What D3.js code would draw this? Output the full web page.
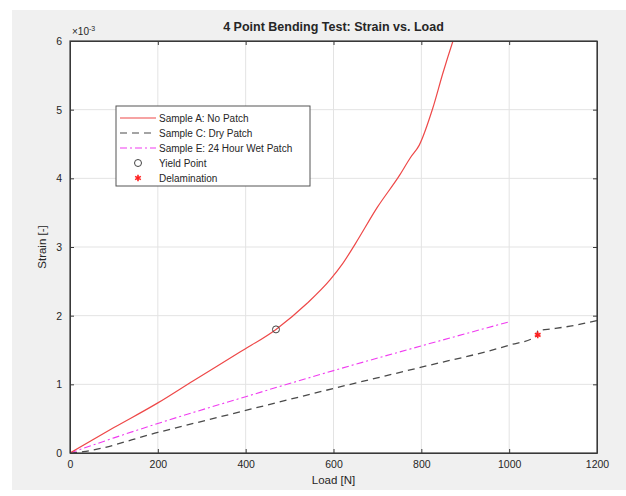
<!DOCTYPE html>
<html>
<head>
<meta charset="utf-8">
<script src="https://cdn.jsdelivr.net/npm/d3@7"></script>
<style>
body { margin: 0; background: #fff; }
text { font-family: "Liberation Sans", Arial, sans-serif; fill: #262626; }
.grid line { stroke: #e3e3e3; stroke-width: 1; }
.axis path, .axis line { stroke: #3a3a3a; }
</style>
</head>
<body>
<div id="chart"></div>
<script>
// Sample A: No Patch (strain in 1e-3)
var loadA   = [0, 100, 200, 280, 387, 469, 540, 592, 620, 650, 700, 751, 775, 795, 826, 849, 872, 885];
var strainA = [0, 0.37, 0.73, 1.05, 1.47, 1.80, 2.18, 2.52, 2.75, 3.05, 3.58, 4.05, 4.30, 4.48, 5.02, 5.53, 6.0, 6.25];
// Sample C: Dry Patch
var loadC   = [0, 30, 200, 400, 600, 800, 1000, 1062, 1065, 1100, 1150, 1200];
var strainC = [0, 0.02, 0.30, 0.62, 0.94, 1.25, 1.57, 1.70, 1.78, 1.81, 1.86, 1.93];
// Sample E: 24 Hour Wet Patch
var loadE   = [0, 100, 200, 400, 600, 800, 1000];
var strainE = [0, 0.22, 0.43, 0.82, 1.20, 1.56, 1.91];
// markers
var yieldPt = [469, 1.80];
var delamPt = [1065, 1.72];

var xTicks = [0, 200, 400, 600, 800, 1000, 1200];
var yTicks = [0, 1, 2, 3, 4, 5, 6];
var legendLabels = ["Sample A: No Patch", "Sample C: Dry Patch", "Sample E: 24 Hour Wet Patch", "Yield Point", "Delamination"];

var W = 626, H = 496;
var margin = {top: 41, right: 29, bottom: 43, left: 70},
    width = W - margin.left - margin.right,
    height = H - margin.top - margin.bottom;

var svg = d3.select("#chart").append("svg")
    .attr("width", W)
    .attr("height", H);

// figure background
svg.append("rect")
    .attr("x", 12).attr("y", 10)
    .attr("width", W - 12).attr("height", H - 16)
    .attr("fill", "#f0f0f0");

var g = svg.append("g")
    .attr("transform", "translate(" + margin.left + "," + margin.top + ")");

var x = d3.scaleLinear().domain([0, 1200]).range([0, width]);
var y = d3.scaleLinear().domain([0, 6]).range([height, 0]);

g.append("rect")
    .attr("width", width).attr("height", height)
    .attr("fill", "#fff");

// grid
g.append("g").attr("class", "grid")
    .selectAll("line").data(xTicks.slice(1, -1)).enter().append("line")
    .attr("x1", function(d) { return x(d); }).attr("x2", function(d) { return x(d); })
    .attr("y1", 0).attr("y2", height);
g.append("g").attr("class", "grid")
    .selectAll("line").data(yTicks.slice(1, -1)).enter().append("line")
    .attr("y1", function(d) { return y(d); }).attr("y2", function(d) { return y(d); })
    .attr("x1", 0).attr("x2", width);

g.append("clipPath").attr("id", "clip")
    .append("rect").attr("width", width).attr("height", height);

function makeLine(xs, ys) {
    return d3.line()
        .curve(d3.curveMonotoneX)
        .x(function(d, i) { return x(xs[i]); })
        .y(function(d, i) { return y(ys[i]); })(xs);
}

g.append("path")
    .attr("d", makeLine(loadC, strainC))
    .attr("clip-path", "url(#clip)")
    .attr("fill", "none").attr("stroke", "#4a4a4a").attr("stroke-width", 1.3)
    .attr("stroke-dasharray", "7,5");

g.append("path")
    .attr("d", makeLine(loadE, strainE))
    .attr("clip-path", "url(#clip)")
    .attr("fill", "none").attr("stroke", "#f03cf0").attr("stroke-width", 1.1)
    .attr("stroke-dasharray", "7,3,2,3");

g.append("path")
    .attr("d", makeLine(loadA, strainA))
    .attr("clip-path", "url(#clip)")
    .attr("fill", "none").attr("stroke", "#ee4848").attr("stroke-width", 1.2);

// yield point
g.append("circle")
    .attr("cx", x(yieldPt[0])).attr("cy", y(yieldPt[1])).attr("r", 3.5)
    .attr("fill", "none").attr("stroke", "#444").attr("stroke-width", 1);

// delamination
var star = d3.symbol().type(d3.symbolAsterisk).size(30);
g.append("path")
    .attr("d", star)
    .attr("transform", "translate(" + x(delamPt[0]) + "," + y(delamPt[1]) + ")")
    .attr("fill", "none").attr("stroke", "#ff2020").attr("stroke-width", 1.6);

// axes (box with ticks on all sides)
var tickLen = 4;
g.append("g").attr("class", "axis")
    .attr("transform", "translate(0," + height + ")")
    .call(d3.axisBottom(x).tickValues(xTicks).tickFormat(d3.format("d")).tickSize(-tickLen).tickPadding(8).tickSizeOuter(0))
    .call(function(s) { s.selectAll("text").style("font-size", "10.5px").attr("fill", "#404040"); });
g.append("g").attr("class", "axis")
    .call(d3.axisTop(x).tickValues(xTicks).tickSize(-tickLen).tickFormat("").tickSizeOuter(0));
g.append("g").attr("class", "axis")
    .call(d3.axisLeft(y).tickValues(yTicks).tickFormat(d3.format("d")).tickSize(-tickLen).tickPadding(8).tickSizeOuter(0))
    .call(function(s) { s.selectAll("text").style("font-size", "10.5px").attr("fill", "#404040"); });
g.append("g").attr("class", "axis")
    .attr("transform", "translate(" + width + ",0)")
    .call(d3.axisRight(y).tickValues(yTicks).tickSize(-tickLen).tickFormat("").tickSizeOuter(0));

g.append("rect")
    .attr("width", width).attr("height", height)
    .attr("fill", "none").attr("stroke", "#3a3a3a").attr("stroke-width", 1.2);

// exponent
var ex = g.append("text").attr("x", 2).attr("y", -6)
    .style("font-size", "10px").attr("fill", "#505050");
ex.append("tspan").text("\u00d710");
ex.append("tspan").attr("dy", -4).style("font-size", "7px").text("-3");

// title & labels
svg.append("text")
    .attr("x", margin.left + width / 2).attr("y", 31)
    .attr("text-anchor", "middle")
    .style("font-size", "12.5px").style("font-weight", "bold")
    .attr("fill", "#111")
    .text("4 Point Bending Test: Strain vs. Load");

svg.append("text")
    .attr("x", margin.left + width / 2).attr("y", 484)
    .attr("text-anchor", "middle")
    .style("font-size", "11.5px")
    .text("Load [N]");

svg.append("text")
    .attr("transform", "translate(46," + (margin.top + height / 2) + ") rotate(-90)")
    .attr("text-anchor", "middle")
    .style("font-size", "11.5px")
    .text("Strain [-]");

// legend
var lg = svg.append("g").attr("transform", "translate(116,106)");
lg.append("rect")
    .attr("width", 194).attr("height", 80)
    .attr("fill", "#fff").attr("stroke", "#555").attr("stroke-width", 1);

var rowY = function(i) { return 12 + i * 15; };
var lineStyles = [
    {stroke: "#ee4848", dash: null},
    {stroke: "#4a4a4a", dash: "7,5"},
    {stroke: "#f03cf0", dash: "7,3,2,3"}
];
lineStyles.forEach(function(s, i) {
    lg.append("line")
        .attr("x1", 4).attr("x2", 40)
        .attr("y1", rowY(i)).attr("y2", rowY(i))
        .attr("stroke", s.stroke).attr("stroke-width", 1.2)
        .attr("stroke-dasharray", s.dash);
});
lg.append("circle")
    .attr("cx", 22).attr("cy", rowY(3)).attr("r", 3.5)
    .attr("fill", "none").attr("stroke", "#444");
lg.append("path")
    .attr("d", star)
    .attr("transform", "translate(22," + rowY(4) + ")")
    .attr("fill", "none").attr("stroke", "#ff2020").attr("stroke-width", 1.6);

lg.selectAll("text.lab").data(legendLabels).enter().append("text")
    .attr("class", "lab")
    .attr("x", 43).attr("y", function(d, i) { return rowY(i) + 3.5; })
    .style("font-size", "10px")
    .text(function(d) { return d; });
</script>
</body>
</html>
